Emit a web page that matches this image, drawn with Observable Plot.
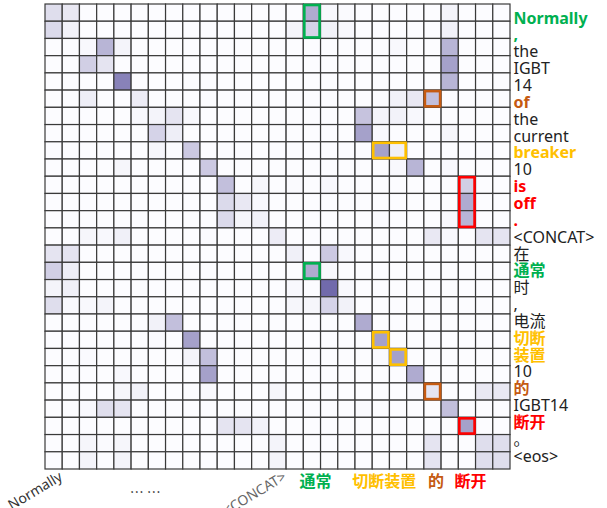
<!DOCTYPE html>
<html><head><meta charset="utf-8">
<script src="https://cdn.jsdelivr.net/npm/d3@7"></script>
<script src="https://cdn.jsdelivr.net/npm/@observablehq/plot@0.6"></script>
<style>body{margin:0;background:#fff}</style>
</head><body><div id="chart"></div>
<script>
// Row tokens (source EN, <CONCAT>, target ZH)
const tokens = ["Normally", ",", "the", "IGBT", "14", "of", "the", "current", "breaker", "10", "is", "off", ".",
  "<CONCAT>", "在", "通常", "时", ",", "电流", "切断", "装置", "10", "的", "IGBT14", "断开", "。", "<eos>"];
// alignment group of each row token ("" = none)
const rowGroup = ["g","g","","","","o","","","y","","r","r","r","","","g","","","","y","y","","o","","r","",""];

// x-axis labels
const xRotLabels = [{col: 0, text: "Normally"}, {col: 13, text: "<CONCAT>"}];
const xEllipsis = [{col: 5, text: "… …"}];
const xGroupLabels = [{col: 15, text: "通常", g: "g"}, {col: 19, text: "切断装置", g: "y"}, {col: 22, text: "的", g: "o"}, {col: 24, text: "断开", g: "r"}];

// highlighted alignment boxes (row range, column range)
const boxes = [
  {r1: 0, r2: 1, c1: 15, c2: 15, g: "g"}, {r1: 5, r2: 5, c1: 22, c2: 22, g: "o"},
  {r1: 8, r2: 8, c1: 19, c2: 20, g: "y"}, {r1: 10, r2: 12, c1: 24, c2: 24, g: "r"},
  {r1: 15, r2: 15, c1: 15, c2: 15, g: "g"}, {r1: 19, r2: 19, c1: 19, c2: 19, g: "y"},
  {r1: 20, r2: 20, c1: 20, c2: 20, g: "y"}, {r1: 22, r2: 22, c1: 22, c2: 22, g: "o"},
  {r1: 24, r2: 24, c1: 24, c2: 24, g: "r"}
];

// attention weights: row -> {col: weight}
const attention = [
  {0:.15,1:.10,15:.40,16:.02,17:.01,23:.04},
  {0:.17,1:.05,14:.04,15:.20,16:.05,17:.02,23:.05},
  {2:.02,3:.35,4:.04,20:.02,23:.35},
  {2:.22,3:.12,23:.45},
  {4:.60,23:.35},
  {2:.07,5:.08,20:.05,21:.10,22:.30},
  {5:.02,6:.04,7:.12,8:.02,18:.28,19:.04,20:.05,21:.02},
  {6:.20,7:.07,18:.45,19:.02,23:.03},
  {6:.03,8:.25,19:.45,20:.06},
  {4:.03,9:.25,20:.02,21:.35,23:.02},
  {10:.30,12:.03,14:.01,16:.02,24:.22},
  {10:.17,11:.10,12:.02,24:.40},
  {10:.17,11:.03,12:.05,19:.01,23:.02,24:.35},
  {2:.03,3:.02,4:.06,9:.01,13:.08,22:.10,23:.02,25:.12,26:.12},
  {0:.12,1:.12,14:.06,16:.25,17:.02},
  {0:.22,1:.07,15:.40,16:.02},
  {0:.04,1:.06,14:.02,16:.72,17:.02},
  {0:.15,1:.02,2:.02,3:.04,14:.03,15:.03,16:.20,17:.05},
  {6:.05,7:.30,18:.40},
  {6:.01,8:.45,19:.45},
  {2:.01,8:.04,9:.30,19:.01,20:.45},
  {4:.02,9:.45,21:.40},
  {4:.03,5:.05,9:.02,13:.03,21:.01,22:.12,25:.10,26:.10},
  {2:.02,3:.15,4:.12,18:.01,23:.30},
  {10:.12,11:.12,12:.05,24:.45},
  {2:.03,3:.01,4:.03,13:.04,22:.12,25:.15,26:.15},
  {2:.04,4:.04,13:.04,22:.12,25:.15,26:.15}
];

const groupColor = {"": "#222222", g: "#00b050", o: "#c55a11", y: "#ffc000", r: "#ff0000"};
const n = tokens.length;
const cells = [];
for (let r = 0; r < n; r++) for (let c = 0; c < n; c++) cells.push({row: r, col: c, v: attention[r][c] || 0});
const rows = tokens.map((t, i) => ({t, i, g: rowGroup[i]}));
// label column of the source sheet is spaced slightly tighter than the grid rows
const labelY = d => 0.81 + d.i * 0.9785;

const latin = "'Noto Sans', 'Noto Sans CJK JP', sans-serif";
const cjk = "'Noto Sans CJK JP', 'Noto Sans', sans-serif";

const marks = [
  Plot.rect(cells, {x1: "col", x2: d => d.col + 1, y1: "row", y2: d => d.row + 1, fill: "v", stroke: "#3a3a3a", strokeWidth: 1.2})
];
for (const g of Object.keys(groupColor)) {
  marks.push(Plot.rect(boxes.filter(b => b.g === g), {
    x1: "c1", x2: d => d.c2 + 1, y1: "r1", y2: d => d.r2 + 1,
    fill: "none", stroke: groupColor[g], strokeWidth: 2.6, inset: 1
  }));
  marks.push(Plot.text(rows.filter(d => d.g === g), {
    y: labelY, text: "t", frameAnchor: "right", textAnchor: "start", dx: 3,
    fill: groupColor[g], fontWeight: g ? "bold" : "normal", fontSize: 16, fontFamily: latin
  }));
}
marks.push(Plot.text(xRotLabels, {
  x: d => d.col + 0.5, text: "text", frameAnchor: "bottom", textAnchor: "end", lineAnchor: "middle",
  rotate: -31, dx: 7, dy: 6, fontSize: 14, fill: d => d.col === 0 ? "#333" : "#666", fontFamily: latin
}));
marks.push(Plot.text(xEllipsis, {
  x: d => d.col + 0.5, text: "text", frameAnchor: "bottom", lineAnchor: "middle", dx: 5, dy: 23,
  fontSize: 14, fill: "#222", fontFamily: cjk
}));
for (const g of ["g", "o", "y", "r"]) {
  marks.push(Plot.text(xGroupLabels.filter(d => d.g === g), {
    x: d => d.col + 0.5, text: "text", frameAnchor: "bottom", lineAnchor: "middle", dx: 3, dy: 12,
    fontSize: 16, fontWeight: "bold", fill: groupColor[g], fontFamily: cjk
  }));
}

const chart = Plot.plot({
  width: 607, height: 508,
  marginLeft: 45, marginRight: 97, marginTop: 4, marginBottom: 39,
  x: {domain: [0, n], axis: null},
  y: {domain: [0, n], reverse: true, axis: null},
  color: {type: "linear", domain: [0, 0.75], range: ["#fcfcff", "#6b64a7"], clamp: true},
  style: {background: "#fff", overflow: "visible"},
  marks
});
document.getElementById("chart").appendChild(chart);
</script>
</body></html>
